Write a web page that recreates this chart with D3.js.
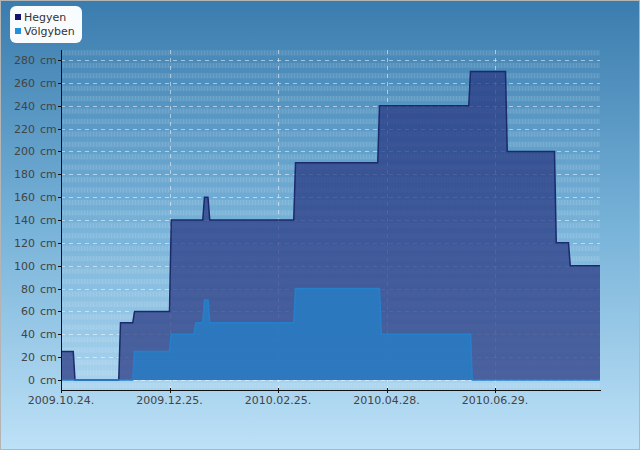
<!DOCTYPE html>
<html>
<head>
<meta charset="utf-8">
<script src="https://cdn.jsdelivr.net/npm/d3@7"></script>
<style>
  body { margin: 0; }
  svg { display: block; font-family: "DejaVu Sans", Verdana, sans-serif; }
</style>
</head>
<body>
<div id="chart"></div>
<script>
// series names
var seriesNames = ["Hegyen", "Völgyben"];

// Hegyen (hó vastagság, cm)
var hegyen = [
    ["2009-10-24", 25], ["2009-10-31", 25], ["2009-11-01", 0],
    ["2009-11-26", 0], ["2009-11-27", 50], ["2009-12-04", 50],
    ["2009-12-05", 60], ["2009-12-25", 60], ["2009-12-26", 140],
    ["2010-01-13", 140], ["2010-01-14", 160], ["2010-01-16", 160],
    ["2010-01-17", 140], ["2010-03-06", 140], ["2010-03-07", 190],
    ["2010-04-23", 190], ["2010-04-24", 240], ["2010-06-14", 240],
    ["2010-06-15", 270], ["2010-07-05", 270], ["2010-07-06", 200],
    ["2010-08-02", 200], ["2010-08-03", 120], ["2010-08-10", 120],
    ["2010-08-11", 100], ["2010-08-28", 100]
];

// Völgyben
var volgyben = [
    ["2009-10-24", 0], ["2009-12-04", 0], ["2009-12-05", 25],
    ["2009-12-25", 25], ["2009-12-26", 40], ["2010-01-08", 40],
    ["2010-01-09", 50], ["2010-01-13", 50], ["2010-01-14", 70],
    ["2010-01-16", 70], ["2010-01-17", 50], ["2010-03-06", 50],
    ["2010-03-07", 80], ["2010-04-24", 80], ["2010-04-25", 40],
    ["2010-06-15", 40], ["2010-06-16", 0], ["2010-08-28", 0]
];

var xTicks = ["2009-10-24", "2009-12-25", "2010-02-25", "2010-04-28", "2010-06-29"];
var yTicks = [0, 20, 40, 60, 80, 100, 120, 140, 160, 180, 200, 220, 240, 260, 280];

var W = 640, H = 450;
var pLeft = 61, pRight = 600, pTop = 50, pBottom = 390;

var parse = d3.timeParse("%Y-%m-%d");
var fmt = d3.timeFormat("%Y.%m.%d.");

var x = d3.scaleTime()
    .domain([parse("2009-10-24"), parse("2010-08-28")])
    .range([pLeft, pRight]);
var y = d3.scaleLinear()
    .domain([-8.75, 288.75])
    .range([pBottom, pTop]);

var svg = d3.select("#chart").append("svg")
    .attr("width", W)
    .attr("height", H);

var defs = svg.append("defs");
var grad = defs.append("linearGradient")
    .attr("id", "bg").attr("x1", 0).attr("y1", 0).attr("x2", 0).attr("y2", 1);
grad.append("stop").attr("offset", 0).attr("stop-color", "#3a7cae");
grad.append("stop").attr("offset", 0.5).attr("stop-color", "#77b2d8");
grad.append("stop").attr("offset", 1).attr("stop-color", "#bde1f7");

var pat = defs.append("pattern")
    .attr("id", "hatch").attr("patternUnits", "userSpaceOnUse")
    .attr("width", 3).attr("height", 4);
pat.append("rect").attr("width", 3).attr("height", 4).attr("fill", "#fff").attr("opacity", 0.07);
pat.append("rect").attr("width", 1).attr("height", 4).attr("fill", "#fff").attr("opacity", 0.08);

defs.append("clipPath").attr("id", "plot")
    .append("rect").attr("x", pLeft).attr("y", pTop)
    .attr("width", pRight - pLeft).attr("height", pBottom - pTop);

svg.append("rect")
    .attr("x", 0.5).attr("y", 0.5)
    .attr("width", W - 1).attr("height", H - 1)
    .attr("fill", "url(#bg)")
    .attr("stroke", "#b4b4b4");

// striped bands
var bands = [];
for (var g = -20; g <= 280; g += 20) {
    bands.push(g + 4);
    bands.push(g + 13);
}
svg.append("g").attr("clip-path", "url(#plot)")
    .selectAll("rect").data(bands).enter().append("rect")
    .attr("x", pLeft)
    .attr("width", pRight - pLeft)
    .attr("y", function (d) { return y(d + 4.5); })
    .attr("height", function (d) { return y(d) - y(d + 4.5); })
    .attr("fill", "url(#hatch)");

// grid
var grid = svg.append("g")
    .attr("stroke", "#fff")
    .attr("stroke-opacity", 0.5)
    .attr("stroke-dasharray", "4,4");
grid.selectAll(".hg").data(yTicks).enter().append("line")
    .attr("x1", pLeft).attr("x2", pRight)
    .attr("y1", function (d) { return Math.round(y(d)) + 0.5; })
    .attr("y2", function (d) { return Math.round(y(d)) + 0.5; });
grid.selectAll(".vg").data(xTicks.slice(1)).enter().append("line")
    .attr("y1", pTop).attr("y2", pBottom)
    .attr("x1", function (d) { return Math.round(x(parse(d))) + 0.5; })
    .attr("x2", function (d) { return Math.round(x(parse(d))) + 0.5; });

var area = d3.area()
    .x(function (d) { return x(parse(d[0])); })
    .y0(y(0))
    .y1(function (d) { return y(d[1]); });
var line = d3.line()
    .x(function (d) { return x(parse(d[0])); })
    .y(function (d) { return y(d[1]); });

svg.append("path").datum(hegyen)
    .attr("d", area)
    .attr("fill", "rgb(38,52,128)")
    .attr("fill-opacity", 0.72);
svg.append("path").datum(hegyen)
    .attr("d", line)
    .attr("fill", "none")
    .attr("stroke", "#1b2a6c")
    .attr("stroke-width", 1.5);

svg.append("path").datum(volgyben)
    .attr("d", area)
    .attr("fill", "rgb(40,125,196)")
    .attr("fill-opacity", 0.85);
svg.append("path").datum(volgyben)
    .attr("d", line)
    .attr("fill", "none")
    .attr("stroke", "#2580cc")
    .attr("stroke-width", 1.5);

// axes
var yAxis = svg.append("g");
yAxis.append("line")
    .attr("x1", pLeft + 0.5).attr("x2", pLeft + 0.5)
    .attr("y1", pTop).attr("y2", pBottom + 3)
    .attr("stroke", "#111");
yAxis.selectAll(".t").data(yTicks).enter().append("line")
    .attr("x1", pLeft - 3).attr("x2", pLeft + 1)
    .attr("y1", function (d) { return Math.round(y(d)) + 0.5; })
    .attr("y2", function (d) { return Math.round(y(d)) + 0.5; })
    .attr("stroke", "#111");
var yLab = yAxis.selectAll(".lab").data(yTicks).enter().append("g")
    .attr("transform", function (d) { return "translate(0," + (y(d) + 4) + ")"; });
yLab.append("text")
    .attr("x", pLeft - 26)
    .attr("text-anchor", "end")
    .attr("font-size", 11)
    .attr("fill", "#444")
    .text(function (d) { return d; });
yLab.append("text")
    .attr("x", pLeft - 21)
    .attr("font-size", 11)
    .attr("fill", "#444")
    .text("cm");

var xAxis = svg.append("g");
xAxis.append("line")
    .attr("x1", pLeft).attr("x2", pRight + 1)
    .attr("y1", pBottom + 0.5).attr("y2", pBottom + 0.5)
    .attr("stroke", "#111");
xAxis.selectAll(".t").data(xTicks).enter().append("line")
    .attr("x1", function (d) { return Math.round(x(parse(d))) + 0.5; })
    .attr("x2", function (d) { return Math.round(x(parse(d))) + 0.5; })
    .attr("y1", pBottom - 2).attr("y2", pBottom + 3)
    .attr("stroke", "#111");
xAxis.selectAll("text").data(xTicks).enter().append("text")
    .attr("x", function (d) { return x(parse(d)); })
    .attr("y", pBottom + 14)
    .attr("text-anchor", "middle")
    .attr("font-size", 11)
    .attr("fill", "#444")
    .text(function (d) { return fmt(parse(d)); });

// legend
var legend = svg.append("g");
legend.append("rect")
    .attr("x", 10).attr("y", 6)
    .attr("width", 72).attr("height", 37)
    .attr("rx", 6)
    .attr("fill", "#f8fcff");
var legColors = ["#14146e", "#1e92de"];
seriesNames.forEach(function (name, i) {
    legend.append("rect")
        .attr("x", 15).attr("y", 14 + i * 14)
        .attr("width", 6).attr("height", 6)
        .attr("fill", legColors[i]);
    legend.append("text")
        .attr("x", 24).attr("y", 21 + i * 14)
        .attr("font-size", 11)
        .attr("fill", "#333")
        .text(name);
});
</script>
</body>
</html>
